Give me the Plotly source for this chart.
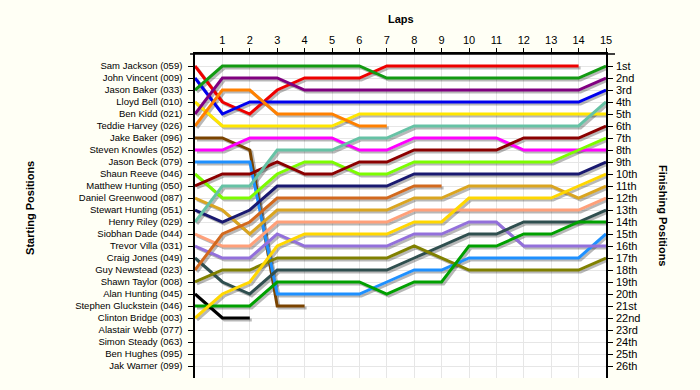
import plotly.graph_objects as go

laps = list(range(16))

drivers = [
    "Sam Jackson (059)", "John Vincent (009)", "Jason Baker (033)", "Lloyd Bell (010)",
    "Ben Kidd (021)", "Teddie Harvey (026)", "Jake Baker (096)", "Steven Knowles (052)",
    "Jason Beck (079)", "Shaun Reeve (046)", "Matthew Hunting (050)", "Daniel Greenwood (087)",
    "Stewart Hunting (051)", "Henry Riley (029)", "Siobhan Dade (044)", "Trevor Villa (031)",
    "Craig Jones (049)", "Guy Newstead (023)", "Shawn Taylor (008)", "Alan Hunting (045)",
    "Stephen Gluckstein (046)", "Clinton Bridge (003)", "Alastair Webb (077)", "Simon Steady (063)",
    "Ben Hughes (095)", "Jak Warner (099)",
]

finish_labels = [
    "1st", "2nd", "3rd", "4th", "5th", "6th", "7th", "8th", "9th", "10th",
    "11th", "12th", "13th", "14th", "15th", "16th", "17th", "18th", "19th", "20th",
    "21st", "22nd", "23rd", "24th", "25th", "26th",
]

colors = [
    "#ee0000", "#0000ee", "#129a12", "#ffe600", "#800080", "#ff8000", "#7a4300", "#ff00ff",
    "#1e90ff", "#7cfc00", "#8b0000", "#daa520", "#191970", "#66c2a5", "#ffa07a", "#9370db",
    "#2f4f4f", "#d2691e", "#808000", "#000000", "#00a000", "#ffd700",
    None, None, None, None,
]

# position of each driver at the end of each lap (lap 0 = grid)
positions = [
    [1, 4, 5, 3, 2, 2, 2, 1, 1, 1, 1, 1, 1, 1, 1],
    [2, 5, 4, 4, 4, 4, 4, 4, 4, 4, 4, 4, 4, 4, 4, 3],
    [3, 1, 1, 1, 1, 1, 1, 2, 2, 2, 2, 2, 2, 2, 2, 1],
    [4, 6, 6, 6, 6, 6, 5, 5, 5, 5, 5, 5, 5, 5, 5, 5],
    [5, 2, 2, 2, 3, 3, 3, 3, 3, 3, 3, 3, 3, 3, 3, 2],
    [6, 3, 3, 5, 5, 5, 6, 6],
    [7, 7, 8, 21, 21],
    [8, 8, 7, 7, 7, 7, 8, 8, 7, 7, 7, 7, 8, 8, 8, 8],
    [9, 9, 9, 20, 20, 20, 20, 19, 18, 18, 17, 17, 17, 17, 17, 15],
    [10, 12, 12, 10, 9, 9, 10, 10, 9, 9, 9, 9, 9, 9, 8, 7],
    [11, 10, 10, 9, 10, 10, 9, 9, 8, 8, 8, 8, 7, 7, 7, 6],
    [12, 13, 15, 13, 13, 13, 13, 13, 12, 12, 11, 11, 11, 11, 12, 11],
    [13, 14, 13, 11, 11, 11, 11, 11, 10, 10, 10, 10, 10, 10, 10, 9],
    [14, 11, 11, 8, 8, 8, 7, 7, 6, 6, 6, 6, 6, 6, 6, 4],
    [15, 16, 16, 14, 14, 14, 14, 14, 13, 13, 13, 13, 13, 13, 13, 12],
    [16, 17, 17, 15, 16, 16, 16, 16, 15, 15, 14, 14, 16, 16, 16, 16],
    [17, 19, 20, 18, 18, 18, 18, 18, 17, 16, 15, 15, 14, 14, 14, 13],
    [18, 15, 14, 12, 12, 12, 12, 12, 11, 11],
    [19, 18, 18, 17, 17, 17, 17, 17, 16, 17, 18, 18, 18, 18, 18, 17],
    [20, 22, 22],
    [21, 21, 21, 19, 19, 19, 19, 20, 19, 19, 16, 16, 15, 15, 14, 14],
    [22, 20, 19, 16, 15, 15, 15, 15, 14, 14, 12, 12, 12, 12, 11, 10],
    [], [], [], [],
]

n_pos = len(drivers)
n_laps = laps[-1]
pos_ticks = list(range(1, n_pos + 1))

# shadow offset (in axis units) ~2px right/down
dx = 2.0 / 27.4
dy = 2.0 / 12.0

fig = go.Figure()

# shadows on the base (hidden, shifted) axes
for name, pos in zip(drivers, positions):
    if not pos:
        continue
    fig.add_trace(go.Scatter(
        x=laps[:len(pos)], y=pos, mode="lines", xaxis="x", yaxis="y",
        line=dict(color="rgba(0,0,0,0.28)", width=3),
        hoverinfo="skip", showlegend=False,
    ))

# main lines on the visible overlay axes
for name, pos, col in zip(drivers, positions, colors):
    if not pos:
        continue
    fig.add_trace(go.Scatter(
        x=laps[:len(pos)], y=pos, mode="lines", name=name, xaxis="x2", yaxis="y2",
        line=dict(color=col, width=3), showlegend=False,
    ))

# anchor trace for the right-hand axis
fig.add_trace(go.Scatter(x=[], y=[], xaxis="x2", yaxis="y3", showlegend=False))

font = "Liberation Sans, Arial, sans-serif"
bg = "#fffff5"

fig.update_layout(
    width=700, height=390,
    margin=dict(l=195, r=94, t=54, b=12),
    paper_bgcolor=bg,
    plot_bgcolor="#ffffff",
    font=dict(family=font, size=11, color="#000000"),
    showlegend=False,
    xaxis=dict(visible=False, range=[-dx, n_laps - dx], fixedrange=True),
    yaxis=dict(visible=False, range=[n_pos + 1 - dy, -dy], fixedrange=True),
    xaxis2=dict(
        overlaying="x", side="top", anchor="y2", range=[0, n_laps],
        tickvals=laps[1:], ticktext=[str(v) for v in laps[1:]],
        ticks="outside", ticklen=4, tickcolor="#000000",
        showline=True, linecolor="#000000", linewidth=1.5, mirror=False,
        showgrid=True, gridcolor="#e6e6e6", gridwidth=1, zeroline=False,
        tickfont=dict(size=11),
    ),
    yaxis2=dict(
        overlaying="y", side="left", anchor="x2", range=[n_pos + 1, 0],
        tickvals=pos_ticks, ticktext=drivers,
        ticks="outside", ticklen=5, tickcolor="#000000", ticklabelstandoff=4,
        showline=True, linecolor="#000000", linewidth=1.5,
        showgrid=True, gridcolor="#e6e6e6", gridwidth=1, zeroline=False,
        tickfont=dict(size=9.5),
    ),
    yaxis3=dict(
        overlaying="y", side="right", anchor="x2", range=[n_pos + 1, 0],
        tickvals=pos_ticks, ticktext=finish_labels,
        ticks="outside", ticklen=5, tickcolor="#000000", ticklabelstandoff=1,
        showline=True, linecolor="#000000", linewidth=1.5,
        showgrid=False, zeroline=False,
        tickfont=dict(size=11),
    ),
    shapes=[
        dict(type="line", xref="paper", yref="paper", x0=-0.012, x1=1.022, y0=1, y1=1,
             line=dict(color="#000000", width=1.5), layer="above"),
    ],
    annotations=[
        dict(text="<b>Laps</b>", xref="paper", yref="paper", x=0.5, y=1.108,
             showarrow=False, font=dict(size=11), xanchor="center", yanchor="middle"),
        dict(text="<b>Starting Positions</b>", xref="paper", yref="paper", x=-0.4015, y=0.525,
             showarrow=False, textangle=-90, font=dict(size=11), xanchor="center", yanchor="middle"),
        dict(text="<b>Finishing Positions</b>", xref="paper", yref="paper", x=1.1387, y=0.503,
             showarrow=False, textangle=90, font=dict(size=11), xanchor="center", yanchor="middle"),
    ],
)

fig.write_html(
    "out.html",
    config={"displayModeBar": False},
    post_script="document.body.style.margin='0';document.body.style.background='" + bg + "';",
)
